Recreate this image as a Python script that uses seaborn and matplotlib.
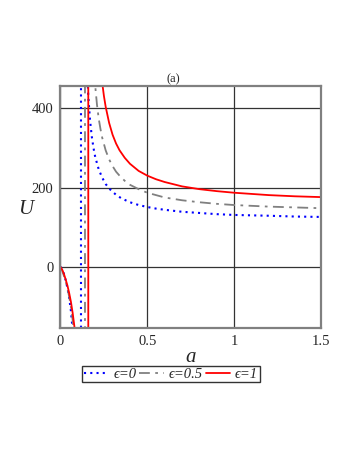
import numpy as np
import pandas as pd
import matplotlib
matplotlib.use("Agg")
import matplotlib.pyplot as plt
import seaborn as sns
from matplotlib.lines import Line2D

# values (a, U) for each epsilon
# each list: lower branch up to the pole, then the upper branch
a_eps0 = [0, 0.01, 0.02, 0.03, 0.04, 0.05, 0.06, 0.07, 0.08, 0.09, 0.1, 0.11, 0.118,
          0.118, 0.13, 0.14, 0.15, 0.16, 0.17, 0.18, 0.19, 0.2, 0.22, 0.24, 0.26, 0.28, 0.3,
          0.32, 0.35, 0.4, 0.45, 0.5, 0.55, 0.6, 0.7, 0.8, 0.9, 1.0, 1.1, 1.2, 1.35, 1.5]
u_eps0 = [0, -6, -18, -34, -53, -78, -111, -159, -231, -355, -617, -1534, -6000,
          6000, 1216, 716, 529, 431, 370, 329, 300, 277, 246, 225, 209, 198, 189,
          182, 173, 163, 156, 151, 147, 144, 139, 136, 133, 131, 130, 129, 127, 126]

a_eps05 = [0, 0.01, 0.02, 0.03, 0.04, 0.05, 0.06, 0.07, 0.08, 0.09, 0.1, 0.12, 0.141,
           0.141, 0.16, 0.17, 0.18, 0.19, 0.2, 0.21, 0.22, 0.23, 0.24, 0.26, 0.28, 0.3,
           0.32, 0.34, 0.37, 0.4, 0.45, 0.5, 0.55, 0.6, 0.7, 0.8, 0.9, 1.0, 1.1, 1.2, 1.35, 1.5]
u_eps05 = [0, -10, -23, -37, -54, -75, -101, -134, -178, -239, -329, -771, -6000,
           6000, 1134, 789, 621, 522, 456, 409, 374, 348, 326, 294, 271, 254,
           240, 230, 217, 207, 196, 187, 181, 175, 168, 163, 159, 156, 154, 152, 150, 148]

a_eps1 = [0, 0.01, 0.02, 0.03, 0.04, 0.05, 0.06, 0.07, 0.08, 0.09, 0.1, 0.12, 0.14, 0.16,
          0.16, 0.18, 0.2, 0.22, 0.23, 0.24, 0.25, 0.26, 0.28, 0.3, 0.32, 0.34, 0.37,
          0.4, 0.45, 0.5, 0.55, 0.6, 0.7, 0.8, 0.9, 1.0, 1.1, 1.2, 1.35, 1.5]
u_eps1 = [0, -7, -18, -32, -47, -66, -88, -116, -150, -194, -252, -458, -1072, -6000,
          6000, 1388, 773, 568, 509, 465, 431, 404, 363, 333, 311, 294, 275,
          260, 242, 230, 221, 214, 203, 196, 191, 187, 184, 181, 178, 176]

labels = ["ϵ=0", "ϵ=0.5", "ϵ=1"]
colors = ["#0000ff", "#808080", "#ff0000"]
styles = [(0, (1, 2)), (0, (6, 3, 1.5, 3)), "-"]
widths = [1.5, 1.3, 1.3]

sns.set_style("white")
serif = ["Liberation Serif", "DejaVu Serif"]
plt.rcParams["font.family"] = serif

fig = plt.figure(figsize=(3.54, 4.58), dpi=100)
ax = fig.add_axes([0.1709, 0.2838, 0.7359, 0.5284])

curves = [(a_eps0, u_eps0), (a_eps05, u_eps05), (a_eps1, u_eps1)]
for (xs, ys), lab, c, ls, lw in zip(curves, labels, colors, styles, widths):
    df = pd.DataFrame({"a": xs, "U": ys})
    sns.lineplot(data=df, x="a", y="U", ax=ax, sort=False, estimator=None,
                 color=c, linestyle=ls, linewidth=lw, legend=False)

ax.set_xlim(0, 1.5)
ax.set_ylim(-154, 456)
ax.set_xticks([0, 0.5, 1, 1.5])
ax.set_xticklabels(["0", "0.5", "1", "1.5"])
ax.set_yticks([0, 200, 400])
ax.grid(True, color="#333333", linewidth=0.9)
ax.set_axisbelow(True)
for s in ax.spines.values():
    s.set_color("#808080")
    s.set_linewidth(1.6)
ax.tick_params(axis="both", length=3, width=0.8, color="#555555", labelsize=10.5, pad=2)

ax.set_xlabel("a", fontsize=15, style="italic", labelpad=0)
ax.set_ylabel("U", fontsize=15, style="italic", rotation=0)
ax.yaxis.set_label_coords(-0.135, 0.49)
ax.yaxis.label.set_va("center")

fig.text(173 / 354, 1 - 79 / 458, "(a)", ha="center", va="center", fontsize=9)

handles = [Line2D([], [], color=c, linestyle=ls, linewidth=lw)
           for c, ls, lw in zip(colors, styles, widths)]
leg = fig.legend(handles, labels, loc="center", bbox_to_anchor=(171 / 354, 1 - 374 / 458),
                 ncol=3, frameon=True, fancybox=False, handlelength=1.7, handletextpad=0.3,
                 columnspacing=0.2, borderpad=0.12, borderaxespad=0,
                 prop={"family": serif, "style": "italic", "size": 10.5})
leg.get_frame().set_edgecolor("black")
leg.get_frame().set_linewidth(1.0)

fig.savefig("out.png", dpi=100)
